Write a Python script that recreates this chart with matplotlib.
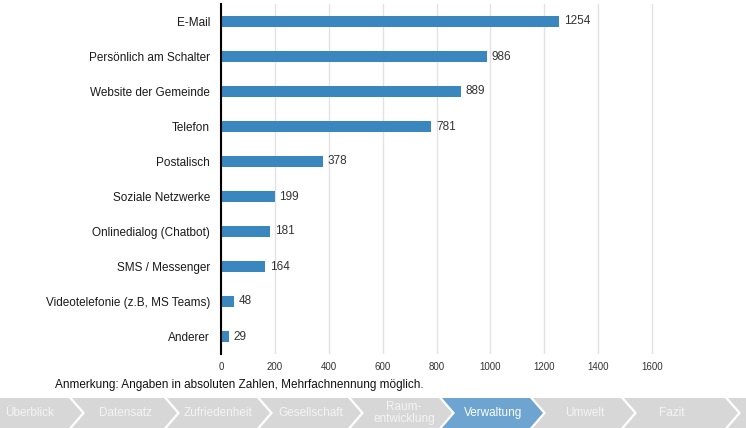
import matplotlib.pyplot as plt
import numpy as np
from matplotlib.patches import Polygon

plt.rcParams['font.family'] = ['Liberation Sans', 'DejaVu Sans']

CATEGORIES = ["E-Mail", "Persönlich am Schalter", "Website der Gemeinde", "Telefon",
              "Postalisch", "Soziale Netzwerke", "Onlinedialog (Chatbot)",
              "SMS / Messenger", "Videotelefonie (z.B, MS Teams)", "Anderer"]
VALUES = [1254, 986, 889, 781, 378, 199, 181, 164, 48, 29]
X_TICKS = [0, 200, 400, 600, 800, 1000, 1200, 1400, 1600]
NOTE = "Anmerkung: Angaben in absoluten Zahlen, Mehrfachnennung möglich."
NAV_ITEMS = ["Überblick", "Datensatz", "Zufriedenheit", "Gesellschaft",
             "Raum-\nentwicklung", "Verwaltung", "Umwelt", "Fazit", ""]
NAV_ACTIVE = "Verwaltung"

# nav layout (pixels): chevron tips and text centres
NAV_TIPS = [82, 177, 270, 361, 452, 543, 634, 738, 760]
NAV_TEXT_X = [30, 125, 218, 311, 404, 493, 585, 672, 750]

BAR_COLOR = "#3a87c0"
W, H = 746, 428
NAV_H = 30


def chevron(i, depth=13, gap=3):
    """polygon points for one nav chevron"""
    tip = NAV_TIPS[i]
    right_top = tip - depth
    if i == 0:
        return [(0, 0), (right_top, 0), (tip, NAV_H / 2), (right_top, NAV_H), (0, NAV_H)]
    notch = NAV_TIPS[i - 1] + gap
    left_top = notch - depth
    return [(left_top, 0), (right_top, 0), (tip, NAV_H / 2), (right_top, NAV_H),
            (left_top, NAV_H), (notch, NAV_H / 2)]


def main():
    fig = plt.figure(figsize=(W / 100, H / 100), dpi=100)
    ax = fig.add_axes([221 / W, 1 - 354 / H, (706 - 221) / W, 350 / H])

    y = np.arange(len(CATEGORIES))
    ax.barh(y, VALUES, height=0.32, color=BAR_COLOR, zorder=3)
    for yi, v in zip(y, VALUES):
        ax.annotate(str(v), (v, yi), xytext=(3.5, 0), textcoords="offset points",
                    va="center", ha="left", fontsize=8.5, color="#333333")

    ax.set_yticks(y, CATEGORIES, fontsize=8.5, color="#1a1a1a")
    ax.set_ylim(len(CATEGORIES) - 0.5, -0.5)
    ax.set_xlim(0, 1800)
    ax.set_xticks(X_TICKS, [str(t) for t in X_TICKS], fontsize=7, color="#333333")
    ax.tick_params(axis="both", length=0)
    ax.tick_params(axis="y", pad=8)
    ax.tick_params(axis="x", pad=6)
    ax.grid(axis="x", color="#e2e2e2", linewidth=1, zorder=0)
    for s in ["top", "right", "bottom"]:
        ax.spines[s].set_visible(False)
    ax.spines["left"].set_color("black")
    ax.spines["left"].set_linewidth(1.5)
    ax.spines["left"].set_zorder(4)

    fig.text(55 / W, 1 - 385 / H, NOTE, fontsize=8.5, va="center", ha="left", color="#111111")

    # navigation bar
    nav = fig.add_axes([0, 0, 1, NAV_H / H])
    nav.set_xlim(0, W)
    nav.set_ylim(0, NAV_H)
    nav.axis("off")
    for i, label in enumerate(NAV_ITEMS):
        active = label == NAV_ACTIVE
        nav.add_patch(Polygon(chevron(i), closed=True,
                              facecolor="#6da4d0" if active else "#d7d7d7", edgecolor="none"))
        nav.text(NAV_TEXT_X[i], NAV_H / 2, label, ha="center", va="center", fontsize=8.5,
                 color="white" if active else "#f4f4f4", linespacing=0.9)

    fig.savefig("out.png", dpi=100)


main()
